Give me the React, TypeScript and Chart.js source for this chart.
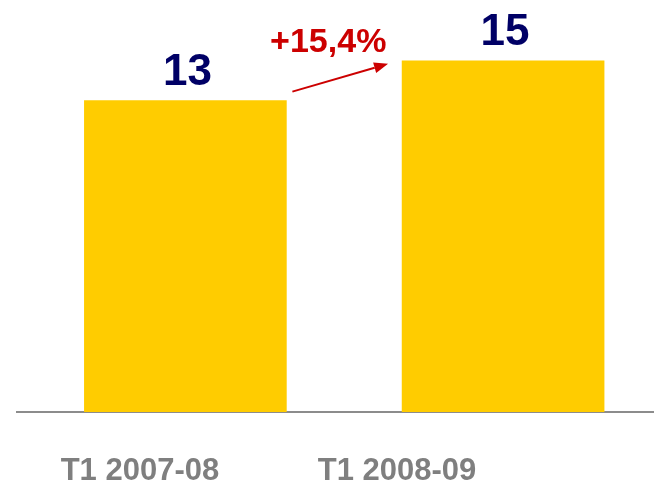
import React, { useEffect, useRef } from "react";
import { Chart, registerables } from "chart.js";

Chart.register(...registerables);

const categories = ["T1 2007-08", "T1 2008-09"];
const values = [13.3, 15.0];
const valueLabels = ["13", "15"];
const growthLabel = "+15,4%";
// tick positions for the category labels (in x-axis units, bars sit at 0 and 1)
const tickPositions = [-0.143, 0.666];

const FONT = "'Liberation Sans', Arial, Helvetica, sans-serif";

const annotations = {
  id: "annotations",
  afterDatasetsDraw(chart: any) {
    const meta = chart.getDatasetMeta(0);
    const ctx = chart.ctx;
    ctx.save();
    // value labels
    ctx.fillStyle = "#000066";
    ctx.font = `bold 44px ${FONT}`;
    ctx.textAlign = "center";
    ctx.textBaseline = "alphabetic";
    meta.data.forEach((el: any, i: number) => {
      ctx.fillText(valueLabels[i], el.x + 2, el.y - 16);
    });
    // growth arrow
    const b1 = meta.data[0];
    const b2 = meta.data[1];
    const x1 = b1.x + b1.width / 2 + 6;
    const y1 = b1.y - 9;
    const x2 = b2.x - b2.width / 2 - 14;
    const y2 = b2.y + 3;
    ctx.strokeStyle = "#CC0000";
    ctx.fillStyle = "#CC0000";
    ctx.lineWidth = 2;
    const ang = Math.atan2(y2 - y1, x2 - x1);
    const headLen = 14;
    const headW = 5.5;
    const bx = x2 - headLen * Math.cos(ang);
    const by = y2 - headLen * Math.sin(ang);
    ctx.beginPath();
    ctx.moveTo(x1, y1);
    ctx.lineTo(bx, by);
    ctx.stroke();
    ctx.beginPath();
    ctx.moveTo(x2, y2);
    ctx.lineTo(bx + headW * Math.sin(ang), by - headW * Math.cos(ang));
    ctx.lineTo(bx - headW * Math.sin(ang), by + headW * Math.cos(ang));
    ctx.closePath();
    ctx.fill();
    // growth label
    ctx.font = `bold 34px ${FONT}`;
    ctx.textAlign = "center";
    ctx.textBaseline = "alphabetic";
    ctx.fillText(growthLabel, (x1 + x2) / 2 - 12, y2 - 12);
    ctx.restore();
  },
};

export default function App() {
  const ref = useRef<HTMLCanvasElement>(null);
  useEffect(() => {
    if (!ref.current) return;
    const chart = new Chart(ref.current, {
      type: "bar",
      data: {
        datasets: [
          {
            data: values.map((v, i) => ({ x: i, y: v })),
            backgroundColor: "#FFCC00",
            borderWidth: 0,
            barThickness: 202,
          },
        ],
      },
      options: {
        responsive: false,
        animation: false,
        layout: { padding: { left: 17, right: 0, top: 0, bottom: 0 } },
        plugins: {
          legend: { display: false },
          tooltip: { enabled: false },
        },
        scales: {
          x: {
            type: "linear",
            offset: false,
            min: -0.53,
            max: 1.475,
            grid: { display: false, drawTicks: false, offset: false },
            border: { display: true, color: "#8C8C8C", width: 2 },
            afterBuildTicks: (axis: any) => {
              axis.ticks = tickPositions.map((v) => ({ value: v }));
            },
            afterFit: (axis: any) => {
              axis.height = 74;
            },
            ticks: {
              autoSkip: false,
              maxRotation: 0,
              padding: 44,
              color: "#7F7F7F",
              font: { family: FONT, size: 31, weight: "bold", lineHeight: 1 },
              callback: (_v: any, i: number) => categories[i],
            },
          },
          y: {
            display: false,
            min: 0,
            max: 17.6,
          },
        },
      },
      plugins: [annotations],
    });
    return () => chart.destroy();
  }, []);
  return (
    <div style={{ position: "absolute", left: 0, top: 0, width: 654, height: 486, background: "#fff" }}>
      <canvas ref={ref} width={654} height={486} style={{ display: "block" }} />
    </div>
  );
}
